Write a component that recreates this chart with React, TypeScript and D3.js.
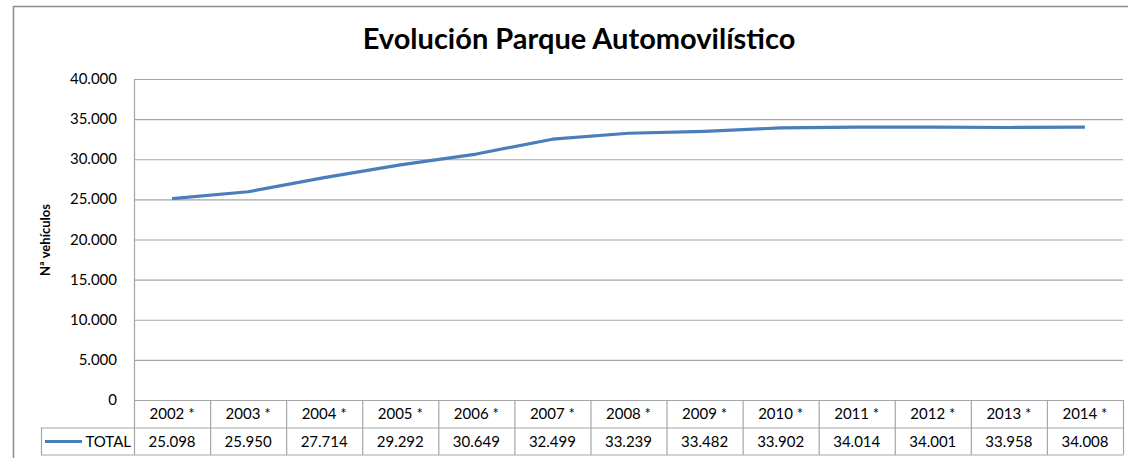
import React from "react";
import * as d3 from "d3";

const years = ["2002 *","2003 *","2004 *","2005 *","2006 *","2007 *","2008 *","2009 *","2010 *","2011 *","2012 *","2013 *","2014 *"];
const totals = [25098,25950,27714,29292,30649,32499,33239,33482,33902,34014,34001,33958,34008];
const yTicks = [0,5000,10000,15000,20000,25000,30000,35000,40000];
const seriesName = "TOTAL";
const title = "Evolución Parque Automovilístico";
const yLabel = "Nª vehículos";

const fmt = (v: number) => d3.format(",")(v).replace(/,/g, ".");

export default function App() {
  const W = 1128, H = 458;
  const left = 134, right = 1123, top = 79, bottom = 400;
  const rowH = 27.5;
  const x = d3.scaleBand().domain(years).range([left, right]).padding(0);
  const y = d3.scaleLinear().domain([0, 40000]).range([bottom, top]);
  const line = d3.line<number>().x((_, i) => x(years[i])! + x.bandwidth() / 2).y(d => y(d));
  const font = "Lato, Carlito, Calibri, sans-serif";
  const grid = "#a6a6a6";
  const col = "#4a7ebb";
  return (
    <svg width={W} height={H} style={{ position: "absolute", left: 0, top: 0, fontFamily: font }}>
      <rect x={0} y={0} width={W} height={H} fill="#fff" />
      <path d={`M13.5,${H} V6.5 H${W}`} fill="none" stroke="#8c8c8c" strokeWidth={1.5} />
      <text x={579} y={49} textAnchor="middle" fontSize={29} fontWeight="bold" fill="#000">{title}</text>
      {yTicks.map(t => (
        <g key={t}>
          <line x1={left} x2={right} y1={y(t) + 0.5} y2={y(t) + 0.5} stroke={grid} strokeWidth={1.2} />
          <text x={117} y={y(t) + 5} textAnchor="end" fontSize={15} fill="#000">{t === 0 ? "0" : fmt(t)}</text>
        </g>
      ))}
      <line x1={left + 0.5} x2={left + 0.5} y1={top} y2={bottom + 2 * rowH} stroke={grid} strokeWidth={1.2} />
      <text transform={`translate(50,${240}) rotate(-90)`} textAnchor="middle" fontSize={13} fontWeight="bold" fill="#000">{yLabel}</text>
      <path d={line(totals)!} fill="none" stroke={col} strokeWidth={3.2} strokeLinejoin="round" />
      {/* table */}
      <line x1={left} x2={right} y1={bottom + rowH + 0.5} y2={bottom + rowH + 0.5} stroke={grid} strokeWidth={1.2} />
      <line x1={41} x2={left} y1={bottom + rowH + 0.5} y2={bottom + rowH + 0.5} stroke={grid} strokeWidth={1.2} />
      <line x1={41} x2={right} y1={bottom + 2 * rowH} y2={bottom + 2 * rowH} stroke={grid} strokeWidth={1.2} />
      <line x1={41.5} x2={41.5} y1={bottom + rowH} y2={bottom + 2 * rowH} stroke={grid} strokeWidth={1.2} />
      {years.map((yr, i) => (
        <g key={yr}>
          <line x1={x(yr)! + x.bandwidth() + 0.5} x2={x(yr)! + x.bandwidth() + 0.5} y1={bottom} y2={bottom + 2 * rowH} stroke={grid} strokeWidth={1.2} />
          <text x={x(yr)! + x.bandwidth() / 2} y={bottom + 19} textAnchor="middle" fontSize={15} fill="#000">{yr}</text>
          <text x={x(yr)! + x.bandwidth() / 2} y={bottom + rowH + 19} textAnchor="middle" fontSize={15} fill="#000">{fmt(totals[i])}</text>
        </g>
      ))}
      <line x1={45} x2={82} y1={bottom + rowH + 14} y2={bottom + rowH + 14} stroke={col} strokeWidth={3} />
      <text x={131} y={bottom + rowH + 19} textAnchor="end" fontSize={15} fill="#000">{seriesName}</text>
    </svg>
  );
}
